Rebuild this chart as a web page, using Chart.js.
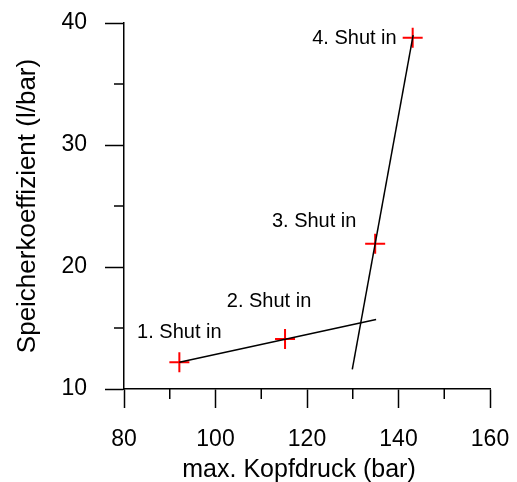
<!DOCTYPE html>
<html>
<head>
<meta charset="utf-8">
<script src="https://cdn.jsdelivr.net/npm/chart.js@4/dist/chart.umd.min.js"></script>
<style>
html, body { margin: 0; padding: 0; background: #fff; }
</style>
</head>
<body>
<canvas id="chart" width="517" height="482"></canvas>
<script>
// shut-in tests
var pressure = [92.1, 115.2, 134.9, 143.1]
var storage = [12.2, 14.1, 21.9, 38.8]
var shutIns = ["1. Shut in", "2. Shut in", "3. Shut in", "4. Shut in"]

// two fitted lines
var fitLowX = [92.1, 135.1]
var fitLowY = [12.2, 15.7]
var fitHighX = [129.9, 143.2]
var fitHighY = [11.6, 39.0]

// axes
var xTicks = [80, 100, 120, 140, 160]
var xMinor = [90, 110, 130, 150]
var yTicks = [10, 20, 30, 40]
var yMinor = [15, 25, 35]
var xTitle = "max. Kopfdruck (bar)"
var yTitle = "Speicherkoeffizient (l/bar)"

var FONT = "'Liberation Sans', Arial, sans-serif"

function toPoints(xs, ys) {
	var pts = []
	for (var i = 0; i < xs.length; i++) {
		pts.push({x: xs[i], y: ys[i]})
	}
	return pts
}

// label placement next to each cross (pixels)
var labelOffsets = [[0, -30, "center"], [-16, -37, "center"], [-61, -22, "center"], [-16, 1, "right"]]

var extras = {
	id: "extras",
	afterDraw: function(chart) {
		var ctx = chart.ctx
		var xs = chart.scales.x, ys = chart.scales.y
		var area = chart.chartArea
		ctx.save()
		ctx.strokeStyle = "#000"
		ctx.lineWidth = 1.5
		// minor ticks
		ctx.beginPath()
		for (var i = 0; i < xMinor.length; i++) {
			var px = xs.getPixelForValue(xMinor[i])
			ctx.moveTo(px, area.bottom)
			ctx.lineTo(px, area.bottom + 10)
		}
		for (var j = 0; j < yMinor.length; j++) {
			var py = ys.getPixelForValue(yMinor[j])
			ctx.moveTo(area.left, py)
			ctx.lineTo(area.left - 10, py)
		}
		ctx.stroke()

		// shut in labels
		ctx.fillStyle = "#000"
		ctx.font = "20px " + FONT
		ctx.textBaseline = "middle"
		for (var k = 0; k < shutIns.length; k++) {
			var off = labelOffsets[k]
			ctx.textAlign = off[2]
			ctx.fillText(shutIns[k], xs.getPixelForValue(pressure[k]) + off[0], ys.getPixelForValue(storage[k]) + off[1])
		}

		// axis titles
		ctx.textAlign = "center"
		ctx.textBaseline = "alphabetic"
		ctx.font = "25px " + FONT
		ctx.fillText(xTitle, (area.left + area.right) / 2 - 8, 477)
		ctx.translate(35, (area.top + area.bottom) / 2)
		ctx.rotate(-Math.PI / 2)
		ctx.font = "26px " + FONT
		ctx.fillText(yTitle, 0, 0)
		ctx.restore()
	}
}

var ctx = document.getElementById("chart").getContext("2d")
var chart = new Chart(ctx, {
	type: "scatter",
	data: {
		datasets: [
			{
				label: "fit 1",
				data: toPoints(fitLowX, fitLowY),
				showLine: true,
				borderColor: "#000",
				borderWidth: 1.5,
				pointRadius: 0,
				order: 0
			},
			{
				label: "fit 2",
				data: toPoints(fitHighX, fitHighY),
				showLine: true,
				borderColor: "#000",
				borderWidth: 1.5,
				pointRadius: 0,
				order: 0
			},
			{
				label: "Shut in",
				data: toPoints(pressure, storage),
				pointStyle: "cross",
				pointRadius: 10,
				borderColor: "#ff0000",
				borderWidth: 2,
				order: 1
			}
		]
	},
	options: {
		responsive: false,
		animation: false,
		layout: {padding: {top: 23, right: 27, left: 0, bottom: 0}},
		plugins: {legend: {display: false}, tooltip: {enabled: false}},
		scales: {
			x: {
				type: "linear",
				min: 80, max: 160,
				afterBuildTicks: function(s) { s.ticks = xTicks.map(function(v) { return {value: v} }) },
				afterFit: function(s) { s.height = 93; s.paddingLeft = 0; s.paddingRight = 0 },
				grid: {drawOnChartArea: false, tickLength: 19, tickWidth: 1.5, tickColor: "#000"},
				border: {color: "#000", width: 1.5},
				ticks: {color: "#000", font: {family: FONT, size: 23}, padding: 18, maxRotation: 0}
			},
			y: {
				type: "linear",
				min: 10, max: 40,
				afterBuildTicks: function(s) { s.ticks = yTicks.map(function(v) { return {value: v} }) },
				afterFit: function(s) { s.width = 124; s.paddingTop = 0; s.paddingBottom = 0 },
				grid: {drawOnChartArea: false, tickLength: 19, tickWidth: 1.5, tickColor: "#000"},
				border: {color: "#000", width: 1.5},
				ticks: {color: "#000", font: {family: FONT, size: 23}, padding: 18}
			}
		}
	},
	plugins: [extras]
})
</script>
</body>
</html>
